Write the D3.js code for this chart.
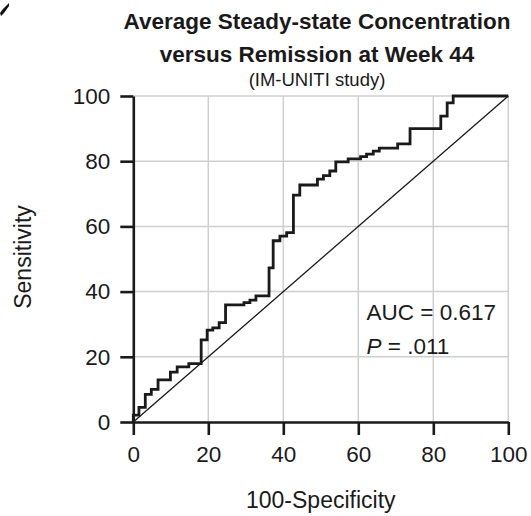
<!DOCTYPE html>
<html><head><meta charset="utf-8">
<script src="https://cdn.jsdelivr.net/npm/d3@7/dist/d3.min.js"></script>
<style>body{margin:0;background:#fff}svg{display:block}text{font-family:"Liberation Sans",Arial,sans-serif;fill:#1a1a1a}</style>
</head><body><svg id="c" width="531" height="516"></svg>
<script>
// ROC step points (100-Specificity, Sensitivity), step-after
const fpr = [0, 0, 1.5, 3.2, 4.8, 6.6, 9.9, 11.7, 14.8, 18.1, 19.7, 21.2, 22.9, 24.6, 29.5, 31.1, 32.7, 36.2, 37.3, 39.1, 40.9, 42.7, 44.4, 49.1, 50.7, 52.4, 54.0, 57.3, 60.6, 62.2, 64.0, 65.6, 70.5, 73.8, 82.0, 83.7, 85.3, 100];
const tpr = [0, 2.1, 4.5, 8.5, 10.0, 12.9, 15.3, 16.9, 17.9, 25.2, 28.2, 28.9, 30.5, 35.9, 36.6, 37.4, 38.7, 47.3, 55.6, 57.0, 58.1, 69.6, 72.7, 74.5, 75.6, 77.0, 79.8, 80.7, 81.4, 82.2, 83.1, 84.0, 85.3, 90.0, 93.8, 97.9, 100, 100];
const xTicks = [0, 20, 40, 60, 80, 100];
const yTicks = [0, 20, 40, 60, 80, 100];
const titleLines = ["Average Steady-state Concentration", "versus Remission at Week 44"];
const subtitle = "(IM-UNITI study)";
const xLabel = "100-Specificity";
const yLabel = "Sensitivity";
const aucText = "AUC = 0.617";
const pValue = ".011";

const svg = d3.select("#c");
const x = d3.scaleLinear().domain([0, 100]).range([133.3, 508.3]);
const y = d3.scaleLinear().domain([0, 100]).range([422, 96]);

// corner mark (cropped panel letter)
svg.append("path").attr("d", "M0,13 L3,9 L9,3 L9,6 L4,13 L1,16 Z").attr("fill", "#111");

// gridlines
svg.append("g").selectAll("line").data(xTicks.filter(d => d > 0)).join("line")
  .attr("x1", d => x(d)).attr("x2", d => x(d)).attr("y1", y(0)).attr("y2", y(100))
  .attr("stroke", "#cfcfcf").attr("stroke-width", 1.5);
svg.append("g").selectAll("line").data(yTicks.filter(d => d > 0)).join("line")
  .attr("y1", d => y(d)).attr("y2", d => y(d)).attr("x1", x(0)).attr("x2", x(100))
  .attr("stroke", "#cfcfcf").attr("stroke-width", 1.5);

// diagonal
svg.append("line").attr("x1", x(0)).attr("y1", y(0)).attr("x2", x(100)).attr("y2", y(100))
  .attr("stroke", "#1a1a1a").attr("stroke-width", 1.3);

// ROC curve
const pts = fpr.map((f, i) => [f, tpr[i]]);
svg.append("path").datum(pts)
  .attr("d", d3.line().x(d => x(d[0])).y(d => y(d[1])).curve(d3.curveStepAfter))
  .attr("fill", "none").attr("stroke", "#1a1a1a").attr("stroke-width", 2.8);

// axes
const xAxis = svg.append("g").attr("transform", `translate(0,${y(0)})`)
  .call(d3.axisBottom(x).tickValues(xTicks).tickSize(13).tickSizeOuter(0).tickPadding(11));
const yAxis = svg.append("g").attr("transform", `translate(${x(0)},0)`)
  .call(d3.axisLeft(y).tickValues(yTicks).tickSize(13).tickSizeOuter(0).tickPadding(10));
[xAxis, yAxis].forEach(a => {
  a.select(".domain").attr("stroke", "#1a1a1a").attr("stroke-width", 2.6);
  a.selectAll(".tick line").attr("stroke", "#1a1a1a").attr("stroke-width", 2.6);
  a.selectAll(".tick text").attr("font-size", 22.5).attr("fill", "#1a1a1a")
   .style("font-family", '"Liberation Sans", Arial, sans-serif');
});

// titles
const cx = 317;
svg.append("text").attr("x", cx).attr("y", 29).attr("text-anchor", "middle")
  .attr("font-size", 22.5).attr("font-weight", "bold").text(titleLines[0]);
svg.append("text").attr("x", cx).attr("y", 62).attr("text-anchor", "middle")
  .attr("font-size", 22.5).attr("font-weight", "bold").text(titleLines[1]);
svg.append("text").attr("x", cx).attr("y", 86).attr("text-anchor", "middle")
  .attr("font-size", 18.5).text(subtitle);

// axis labels
svg.append("text").attr("x", 320.8).attr("y", 508).attr("text-anchor", "middle")
  .attr("font-size", 23).text(xLabel);
svg.append("text").attr("transform", "translate(31,257) rotate(-90)").attr("text-anchor", "middle")
  .attr("font-size", 23).text(yLabel);

// annotation
svg.append("text").attr("x", 366.5).attr("y", 319.5).attr("font-size", 22.5).text(aucText);
const pt = svg.append("text").attr("x", 366.5).attr("y", 353.5).attr("font-size", 22.5);
pt.append("tspan").attr("font-style", "italic").text("P");
pt.append("tspan").text(" = " + pValue);
</script></body></html>
